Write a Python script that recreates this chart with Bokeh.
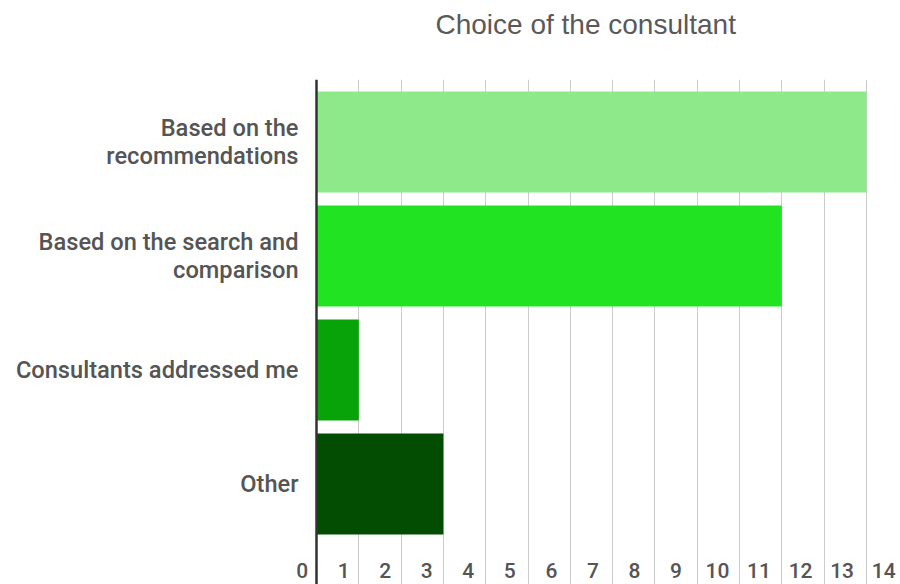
from bokeh.plotting import figure
from bokeh.models import Range1d, FixedTicker, CustomJSTickFormatter, Span, ColumnDataSource, Title
from bokeh.embed import file_html
from bokeh.resources import INLINE

# ---- data ----
categories = [
    "Based on the\nrecommendations",
    "Based on the search and\ncomparison",
    "Consultants addressed me",
    "Other",
]
counts = [13, 11, 1, 3]
bar_colors = ["#8de98a", "#21e321", "#08a308", "#034d03"]
tick_labels = ["0", "1", "2", "3", "4", "5", "6", "7", "8", "9", "10", "11", "12", "13", "14"]
grid_values = [1, 2, 3, 4, 5, 6, 7, 8, 9, 10, 11, 12, 13]
title_text = "Choice of the consultant"

positions = list(range(len(categories)))
src = ColumnDataSource(dict(y=positions, count=counts, color=bar_colors))

p = figure(
    width=900, height=584,
    x_range=Range1d(-0.4255, 13.806),
    y_range=Range1d(3.882, -0.548),
    output_backend="svg", toolbar_location=None,
    min_border_left=298, min_border_right=0, min_border_top=79, min_border_bottom=0,
    title=None,
)
p.outline_line_color = None
p.background_fill_color = "white"

p.hbar(y="y", left=0, right="count", height=0.886, fill_color="color",
       line_color=None, source=src)

# grid
p.xgrid.ticker = FixedTicker(ticks=grid_values)
p.xgrid.grid_line_color = "#cccccc"
p.xgrid.grid_line_width = 1
p.ygrid.grid_line_color = None

# zero axis line
p.add_layout(Span(location=0, dimension="height", line_color="#333333", line_width=2.5))

# y axis (categories)
p.yaxis.ticker = FixedTicker(ticks=positions)
p.yaxis.major_label_overrides = {i: c for i, c in enumerate(categories)}
p.yaxis.axis_line_color = None
p.yaxis.major_tick_line_color = None
p.yaxis.minor_tick_line_color = None
p.yaxis.major_tick_out = 0
p.yaxis.major_tick_in = 0
p.yaxis.major_label_standoff = 0
p.yaxis.major_label_text_font = "Roboto Medium"
p.yaxis.major_label_text_font_size = "23.6px"
p.yaxis.major_label_text_color = "#555555"
p.yaxis.major_label_text_line_height = 1.0

# x axis (labels sit between gridlines, inside the plot area)
p.xaxis.ticker = FixedTicker(ticks=[k * 0.982 - 0.34 for k in range(len(tick_labels))])
p.xaxis.formatter = CustomJSTickFormatter(
    args=dict(labels=tick_labels),
    code="return labels[Math.round((tick + 0.34) / 0.982)];")
p.xaxis.axis_line_color = None
p.xaxis.major_tick_line_color = None
p.xaxis.minor_tick_line_color = None
p.xaxis.major_tick_out = 0
p.xaxis.major_tick_in = 0
p.xaxis.major_label_standoff = -22
p.xaxis.major_label_text_font = "Roboto Medium"
p.xaxis.major_label_text_font_size = "21px"
p.xaxis.major_label_text_color = "#555555"

# spacer between the title and the plot area (closest to the frame)
p.add_layout(Title(text=" ", text_font_size="1px", standoff=32), "above")

# title
p.add_layout(Title(text=title_text, text_font="Liberation Sans", text_font_size="28px",
                   text_font_style="normal", text_color="#595959", align="left",
                   offset=137, standoff=10), "above")

open("out.html", "w").write(file_html(p, INLINE))
